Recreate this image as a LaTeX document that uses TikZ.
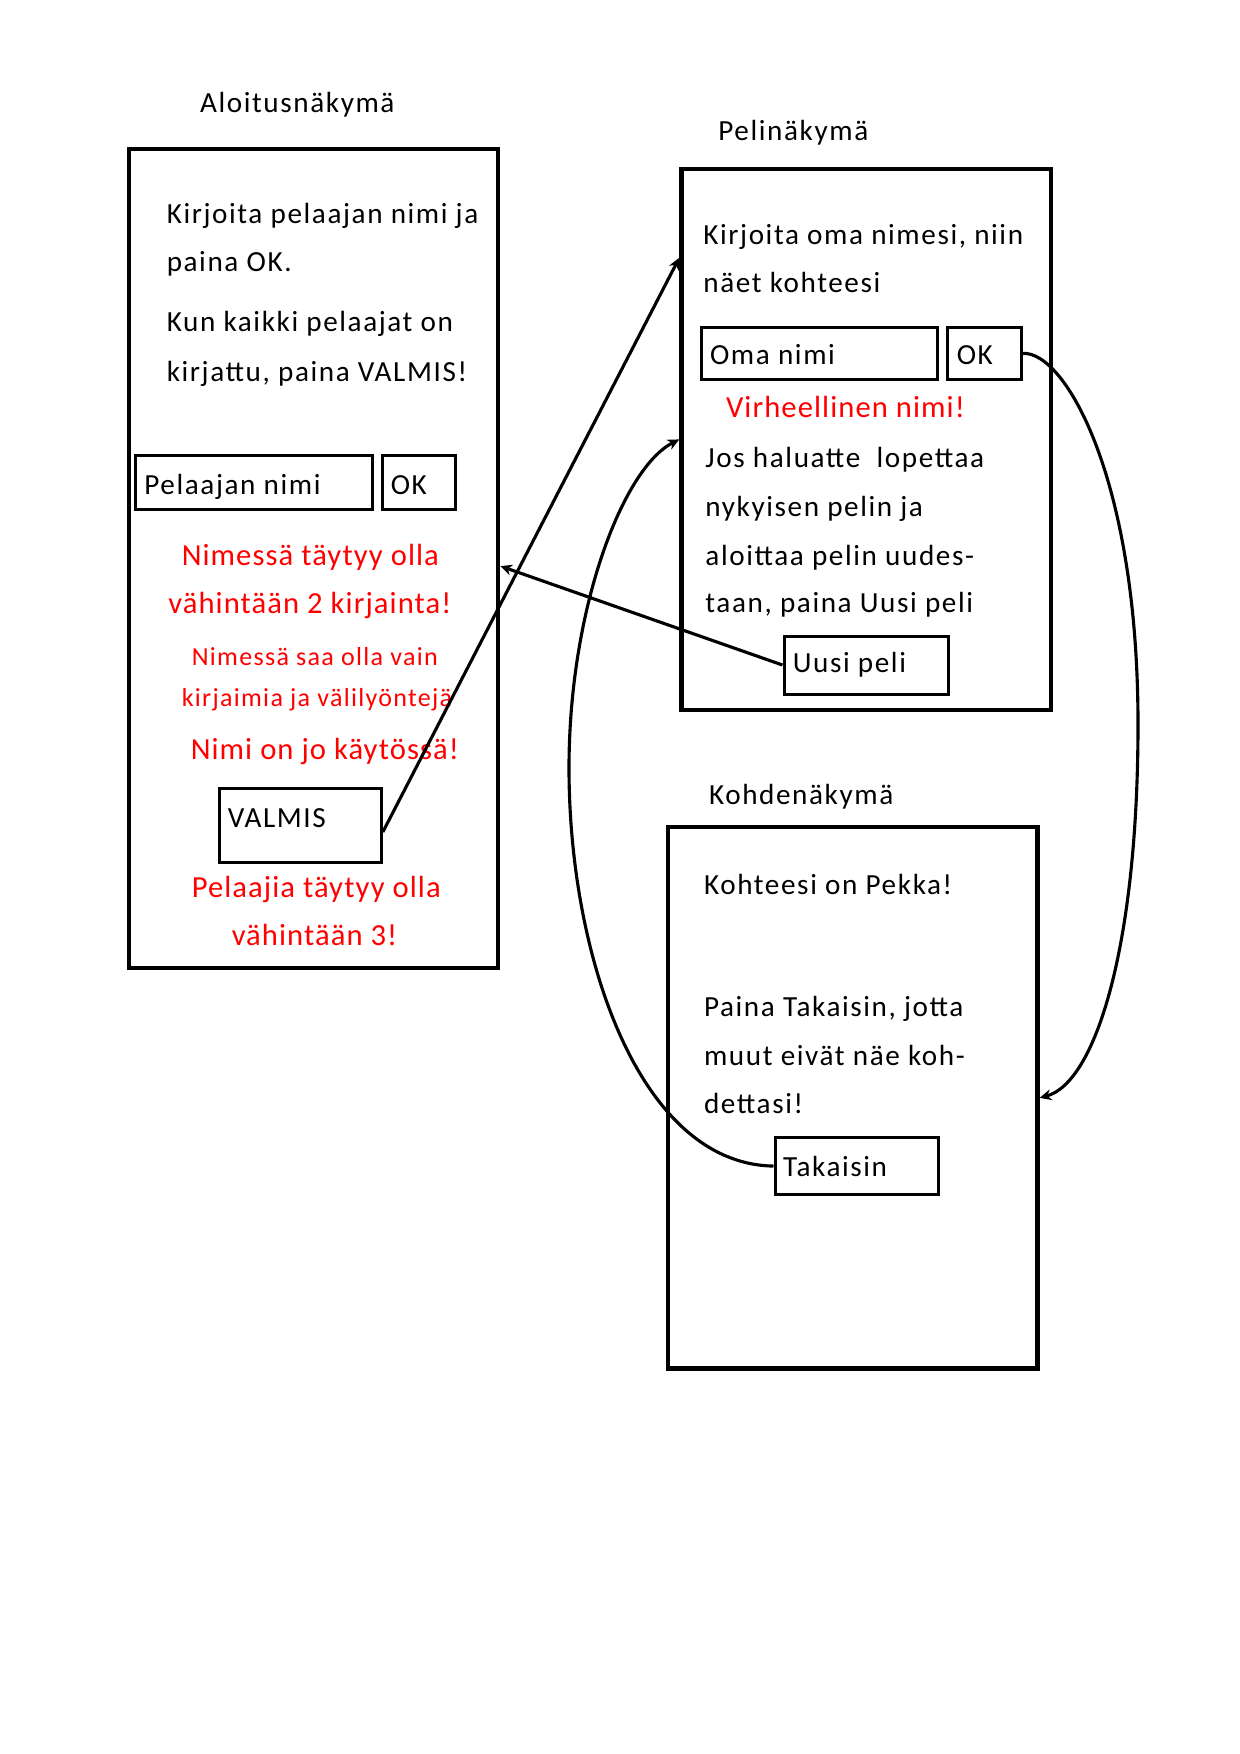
\documentclass[tikz,border=0pt]{standalone}
\usepackage{fontspec}
\setmainfont{Carlito}[LetterSpace=5.5]
\usetikzlibrary{arrows.meta,calc}
\definecolor{errred}{RGB}{255,0,0}
\def\pxu{0.48pt}
\begin{document}
\begin{tikzpicture}[x=0.48pt,y=-0.48pt,
  bigbox/.style={draw, line width=2.1pt, inner sep=0pt, anchor=north west},
  btn/.style={draw, line width=1.45pt, inner sep=0pt, anchor=north west},
  txtbase/.style={anchor=base west, inner sep=0pt, xshift=0.8pt, yshift=-0.8pt},
  txt/.style={txtbase, font=\fontsize{14}{16}\selectfont},
  err/.style={txtbase, text=errred, font=\fontsize{14.7}{18}\selectfont\addfontfeature{LetterSpace=3.5}},
  errsmall/.style={txtbase, text=errred, font=\fontsize{12.5}{15}\selectfont\addfontfeature{LetterSpace=5}},
  conn/.style={line width=1.5pt, -{Stealth[length=5.6pt,width=5.2pt]}}
]
\path[use as bounding box, fill=white] (2,2) rectangle (1242,1756);

% --- screens ---
\node[bigbox, minimum width=369.3*\pxu, minimum height=819*\pxu] (alo) at (128.7,149) {};
\node[bigbox, minimum width=369.4*\pxu, minimum height=541*\pxu] (peli) at (681.3,168.7) {};
\node[bigbox, minimum width=369.8*\pxu, minimum height=541.3*\pxu] (koh) at (667.5,827) {};

% --- titles ---
\node[txt] (t1) at (200,113.3) {Aloitusnäkymä};
\node[txt] (t2) at (718.3,140.7) {Pelinäkymä};
\node[txt] (t3) at (709,805) {Kohdenäkymä};

% --- Aloitusnäkymä ---
\node[txt] (a1) at (166.7,224) {Kirjoita pelaajan nimi ja};
\node[txt] (a2) at (166.7,271.7) {paina OK.};
\node[txt] (a3) at (166.7,331.7) {Kun kaikki pelaajat on};
\node[txt] (a4) at (166.7,381.7) {kirjattu, paina VALMIS!};
\node[btn, minimum width=236.7*\pxu, minimum height=53.3*\pxu] (pelnimi) at (135.8,456.2) {};
\node[txt] (pelnimit) at (144.3,495) {Pelaajan nimi};
\node[btn, minimum width=72.6*\pxu, minimum height=53.3*\pxu] (ok1) at (383.2,456.2) {};
\node[txt] (ok1t) at (390.7,495) {OK};
\node[err] (e1) at (181.7,565.7) {Nimessä täytyy olla};
\node[err] (e2) at (168.3,613.4) {vähintään 2 kirjainta!};
\node[errsmall] (e3) at (191.7,665.5) {Nimessä saa olla vain};
\node[errsmall] (e4) at (181.7,706.8) {kirjaimia ja välilyöntejä};
\node[err] (e5) at (190.7,759.7) {Nimi on jo käytössä!};
\node[btn, minimum width=162*\pxu, minimum height=73.9*\pxu] (valmis) at (219.8,789.4) {};
\node[txt] (valmist) at (227.7,827.7) {VALMIS};
\node[err] (e6) at (191.7,898) {Pelaajia täytyy olla};
\node[err] (e7) at (231.7,945.5) {vähintään 3!};

% --- Pelinäkymä ---
\node[txt] (p1) at (703.3,245) {Kirjoita oma nimesi, niin};
\node[txt] (p2) at (703.3,293.3) {näet kohteesi};
\node[btn, minimum width=235.6*\pxu, minimum height=52.7*\pxu] (omanimi) at (702.2,327.5) {};
\node[txt] (omanimit) at (710,365) {Oma nimi};
\node[btn, minimum width=73.6*\pxu, minimum height=52.7*\pxu] (ok2) at (948.2,327.5) {};
\node[txt] (ok2t) at (956.7,365) {OK};
\node[err] (e8) at (726,418.3) {Virheellinen nimi!};
\node[txt] (p3) at (705.4,468.3) {Jos haluatte \ lopettaa};
\node[txt] (p4) at (705.4,516.7) {nykyisen pelin ja};
\node[txt] (p5) at (705.4,565.7) {aloittaa pelin uudes-};
\node[txt] (p6) at (705.4,613.3) {taan, paina Uusi peli};
\node[btn, minimum width=164.4*\pxu, minimum height=58*\pxu] (uusi) at (784.5,636.5) {};
\node[txt] (uusit) at (792.7,673.3) {Uusi peli};

% --- Kohdenäkymä ---
\node[txt] (k1) at (704,895.2) {Kohteesi on Pekka!};
\node[txt] (k2) at (704,1017) {Paina Takaisin, jotta};
\node[txt] (k3) at (704,1065.5) {muut eivät näe koh-};
\node[txt] (k4) at (704,1113.8) {dettasi!};
\node[btn, minimum width=163.8*\pxu, minimum height=57.5*\pxu] (takaisin) at (775.5,1137.8) {};
\node[txt] (takaisint) at (783,1177) {Takaisin};

% --- connectors ---
\draw[conn] ($(valmis.north east)!0.58!(valmis.south east)$) -- ($(peli.north west)!0.167!(peli.south west)$);
\draw[conn] (uusi.west) -- ($(alo.north east)!0.509!(alo.south east)$);
\draw[conn] (ok2.east) .. controls (1067,353) and (1140,480) .. (1140,726)
            .. controls (1140,950) and (1097,1085) .. (koh.east);
\draw[conn] (takaisin.west) .. controls (642,1166) and (571,960) .. (571,770)
            .. controls (571,610) and (625,470) .. (peli.west);
\end{tikzpicture}
\end{document}
